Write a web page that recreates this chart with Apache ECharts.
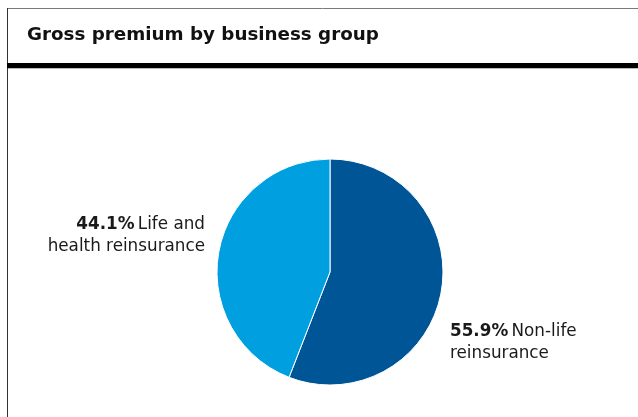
<!DOCTYPE html>
<html>
<head>
<meta charset="utf-8">
<script src="https://cdn.jsdelivr.net/npm/echarts@6/dist/echarts.min.js"></script>
<style>
  html, body { margin: 0; padding: 0; background: #fff; }
  #chart { width: 638px; height: 417px; }
</style>
</head>
<body>
<div id="chart"></div>
<script>
// Business groups and their share of gross premium (%)
const categories = ['Non-life reinsurance', 'Life and health reinsurance'];
const shares = [55.9, 44.1];
const labelLines = [['Non-life', 'reinsurance'], ['Life and', 'health reinsurance']];
const colors = ['#005596', '#009fe0'];

const FONT = 'DejaVu Sans';

const chart = echarts.init(document.getElementById('chart'), null, { renderer: 'canvas' });

const data = categories.map((name, i) => ({
  name: name,
  value: shares[i],
  itemStyle: { color: colors[i] }
}));

// label anchor placements around the pie
const labelPlacement = [
  { x: 450, y: 321, align: 'left' },
  { x: 205, y: 214, align: 'right' }
];

chart.setOption({
  animation: false,
  title: {
    text: 'Gross premium by business group',
    left: 27,
    top: 26,
    padding: 0,
    textStyle: {
      fontFamily: FONT,
      fontWeight: 'bold',
      fontSize: 18.3,
      color: '#111'
    }
  },
  graphic: [
    { type: 'line', shape: { x1: 7, y1: 8.5, x2: 638, y2: 8.5 }, style: { stroke: '#7a7a7a', lineWidth: 1 } },
    { type: 'line', shape: { x1: 7.5, y1: 8, x2: 7.5, y2: 417 }, style: { stroke: '#333', lineWidth: 1 } },
    { type: 'rect', shape: { x: 7, y: 63, width: 631, height: 5 }, style: { fill: '#000' } },
    { type: 'line', shape: { x1: 8, y1: 68.5, x2: 638, y2: 68.5 }, style: { stroke: '#bbb', lineWidth: 1 } }
  ],
  series: [{
    type: 'pie',
    center: [330, 272],
    radius: [0, 113],
    startAngle: 90,
    clockwise: true,
    data: data,
    itemStyle: { borderColor: '#fff', borderWidth: 1 },
    label: {
      show: true,
      position: 'outside',
      formatter: function (p) {
        const lines = labelLines[p.dataIndex];
        return '{b|' + p.value.toFixed(1) + '%} {n|' + lines[0] + '}\n{n|' + lines[1] + '}';
      },
      rich: {
        b: { fontFamily: FONT, fontWeight: 'bold', fontSize: 16.8, color: '#1a1a1a', lineHeight: 22 },
        n: { fontFamily: FONT, fontSize: 16.8, color: '#1a1a1a', lineHeight: 22 }
      }
    },
    labelLine: { show: false },
    labelLayout: function (params) {
      const p = labelPlacement[params.dataIndex];
      return { x: p.x, y: p.y, align: p.align, verticalAlign: 'top' };
    },
    emphasis: { disabled: true }
  }]
});
</script>
</body>
</html>
